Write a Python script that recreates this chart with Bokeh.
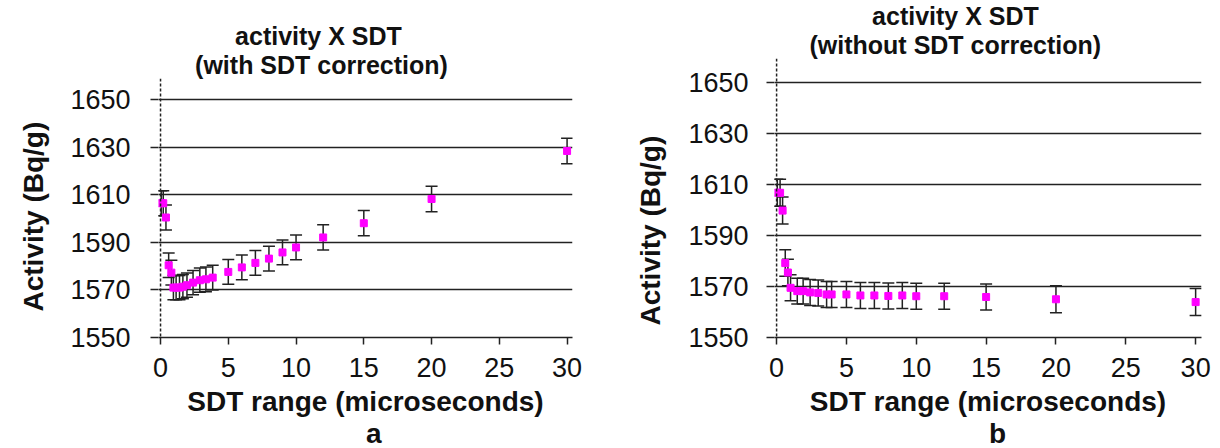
from bokeh.plotting import figure
from bokeh.layouts import row, column
from bokeh.models import Span, Title, FixedTicker
from bokeh.embed import file_html
from bokeh.resources import INLINE

# ---------------- data ----------------
sdt_a = [0.05, 0.2, 0.4, 0.6, 0.8, 0.95, 1.15, 1.4, 1.65, 1.95, 2.4, 2.9, 3.35, 3.85,
         5, 6, 7, 8, 9, 10, 12, 15, 20, 30]
act_a = [1606.5, 1606.5, 1600.5, 1580.4, 1577.3, 1571.0, 1571.0, 1571.0, 1571.4, 1572.0,
         1573.1, 1574.1, 1574.5, 1575.2, 1577.6, 1579.5, 1581.4, 1583.2, 1585.8, 1587.9,
         1592.1, 1598.1, 1608.3, 1628.5]
err_a = [5.3, 5.3, 5.3, 5.2, 5.2, 5.1, 5.1, 5.1, 5.1, 5.1, 5.1, 5.1, 5.2, 5.2,
         5.2, 5.2, 5.2, 5.2, 5.2, 5.2, 5.3, 5.3, 5.4, 5.4]

sdt_b = [0.05, 0.25, 0.43, 0.62, 0.81, 1.0, 1.48, 1.9, 2.4, 2.98, 3.58, 3.94,
         5, 6, 7, 8, 9, 10, 12, 15, 20, 30]
act_b = [1606.8, 1606.8, 1599.8, 1579.2, 1575.5, 1569.5, 1568.2, 1568.2, 1567.7, 1567.5,
         1566.9, 1566.9, 1566.9, 1566.5, 1566.5, 1566.3, 1566.5, 1566.2, 1566.2, 1565.9,
         1565.0, 1563.9]
err_b = [5.3, 5.3, 5.3, 5.2, 5.2, 5.1, 5.1, 5.1, 5.1, 5.1, 5.1, 5.1,
         5.1, 5.1, 5.1, 5.1, 5.1, 5.1, 5.1, 5.1, 5.3, 5.3]

y_ticks = [1550, 1570, 1590, 1610, 1630, 1650]
x_ticks = [0, 5, 10, 15, 20, 25, 30]

title_line1 = "activity X SDT"
title_a2 = "(with SDT correction)"
title_b2 = "(without SDT correction)"
x_title = "SDT range (microseconds)"
y_title = "Activity (Bq/g)"

FONT = "Liberation Sans"
MAGENTA = "#FF00FF"
INK = "#111111"
LINE = "#222222"


def txt_title(text, size, align, offset, standoff, valign):
    return Title(text=text, text_font=FONT, text_font_size=size, text_font_style="bold",
                 text_color=INK, align=align, offset=offset, standoff=standoff,
                 vertical_align=valign)


def make_panel(xs, ys, errs, sub, letter, width, border_left, border_right,
               border_top, x_end, y_end, ytick_standoff, title_cfg, ylab_cfg, letter_off):
    p = figure(width=width, height=448, output_backend="svg", toolbar_location=None,
               title=None, x_range=(-0.15, x_end), y_range=(1550, y_end),
               min_border_left=border_left, min_border_right=border_right,
               min_border_top=border_top, min_border_bottom=109)
    p.outline_line_color = None
    p.background_fill_color = "white"
    p.border_fill_color = "white"

    # grid
    p.xgrid.grid_line_color = None
    p.ygrid.ticker = FixedTicker(ticks=y_ticks)
    p.ygrid.grid_line_color = LINE
    p.ygrid.grid_line_width = 1.5

    # axes
    p.yaxis.ticker = FixedTicker(ticks=y_ticks)
    p.xaxis.ticker = FixedTicker(ticks=x_ticks)
    for ax in (p.xaxis[0], p.yaxis[0]):
        ax.major_label_text_font = FONT
        ax.major_label_text_font_size = "27px"
        ax.major_label_text_color = INK
        ax.major_tick_in = 0
        ax.minor_tick_in = 0
        ax.minor_tick_out = 0
        ax.major_tick_line_color = LINE
        ax.major_tick_line_width = 1.5
    p.yaxis.axis_line_color = None
    p.yaxis.major_tick_out = 8
    p.yaxis.major_label_standoff = ytick_standoff
    p.xaxis.major_tick_out = 7
    p.xaxis.major_label_standoff = 13
    p.xaxis.axis_line_color = LINE
    p.xaxis.axis_line_width = 1.5
    p.xaxis.axis_label = x_title
    p.xaxis.axis_label_text_font = FONT
    p.xaxis.axis_label_text_font_size = "28px"
    p.xaxis.axis_label_text_font_style = "bold"
    p.xaxis.axis_label_text_color = INK
    p.xaxis.axis_label_standoff = 6

    # dashed vertical axis at x = 0
    p.add_layout(Span(location=0, dimension="height", line_color=LINE,
                      line_width=1.5, line_dash="3 2"))

    # error bars
    lo = [y - e for y, e in zip(ys, errs)]
    hi = [y + e for y, e in zip(ys, errs)]
    p.segment(x0=xs, y0=lo, x1=xs, y1=hi, line_color=LINE, line_width=1.5)
    p.scatter(x=xs + xs, y=lo + hi, marker="dash", size=12,
              line_color=LINE, line_width=1.5)
    # points
    p.scatter(x=xs, y=ys, marker="square", size=7, fill_color=MAGENTA,
              line_color=MAGENTA)

    # chart title, two lines (second line nearest to the plot)
    off1, off2, st = title_cfg
    p.add_layout(txt_title(sub, "25px", "left", off2, st, "bottom"), "above")
    p.add_layout(txt_title(title_line1, "25px", "left", off1, st, "bottom"), "above")

    # y axis title
    yoff, yst = ylab_cfg
    p.add_layout(txt_title(y_title, "28px", "left", yoff, yst, "top"), "left")

    # panel letter
    p.add_layout(txt_title(letter, "28px", "left", letter_off, -4, "top"), "below")
    return p


pa = make_panel(sdt_a, act_a, err_a, title_a2, "a", width=610, border_left=156,
                border_right=38, border_top=78, x_end=30.4, y_end=1659,
                ytick_standoff=20, title_cfg=(76.6, 36.6, -1), ylab_cfg=(26, 34),
                letter_off=207.5)
pb = make_panel(sdt_b, act_b, err_b, title_b2, "b", width=610, border_left=164,
                border_right=19, border_top=57, x_end=30.42, y_end=1659.5,
                ytick_standoff=18, title_cfg=(97.6, 35, -1), ylab_cfg=(12, 36),
                letter_off=214.5)

layout = row(column(pa), column(pb))
open("out.html", "w").write(file_html(layout, INLINE))
